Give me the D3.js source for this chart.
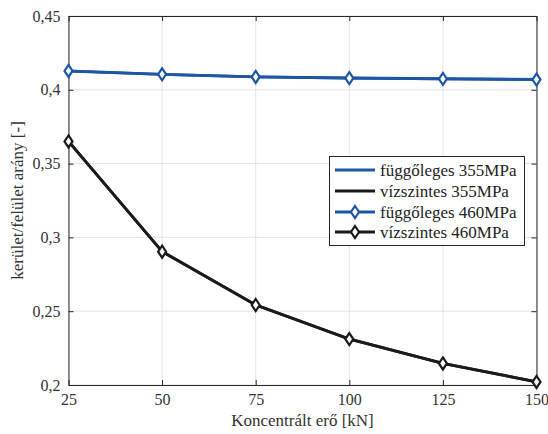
<!DOCTYPE html>
<html><head><meta charset="utf-8">
<script src="https://cdn.jsdelivr.net/npm/d3@7"></script>
<style>body{margin:0;background:#fff}svg{display:block}svg text{font-family:"Liberation Serif","Times New Roman",Times,"DejaVu Serif",serif !important}</style>
</head><body><svg id="c" width="548" height="434"></svg>
<script>
const forces = [25, 50, 75, 100, 125, 150];
const fugg355 = [0.4127, 0.4104, 0.4088, 0.4080, 0.4075, 0.4070];
const visz355 = [0.3651, 0.2905, 0.2543, 0.2312, 0.2147, 0.2022];
const fugg460 = [0.4128, 0.4105, 0.4087, 0.4079, 0.4074, 0.4069];
const visz460 = [0.3650, 0.2903, 0.2542, 0.2311, 0.2146, 0.2021];
const xTicks = [25, 50, 75, 100, 125, 150];
const yTicks = [0.2, 0.25, 0.3, 0.35, 0.4, 0.45];
const seriesNames = ["függőleges 355MPa", "vízszintes 355MPa", "függőleges 460MPa", "vízszintes 460MPa"];

const BLUE = "#1c56a4", BLACK = "#1a1a1a", AX = "#262626";
const FONT = '"Liberation Serif","Times New Roman",Times,"DejaVu Serif",serif';
const svg = d3.select("#c");
const L = 68.5, R = 536.5, T = 16, B = 385;
const x = d3.scaleLinear().domain([25, 150]).range([L, R]);
const y = d3.scaleLinear().domain([0.2, 0.45]).range([B, T]);
const fmt = v => String(+v.toFixed(2)).replace(".", ",");

// grid
svg.append("g").selectAll("line").data(xTicks).join("line")
  .attr("x1", d => x(d)).attr("x2", d => x(d)).attr("y1", T).attr("y2", B)
  .attr("stroke", "#e3e3e3").attr("stroke-width", 1);
svg.append("g").selectAll("line").data(yTicks).join("line")
  .attr("y1", d => y(d)).attr("y2", d => y(d)).attr("x1", L).attr("x2", R)
  .attr("stroke", "#e3e3e3").attr("stroke-width", 1);

// axes
const xa = svg.append("g").attr("transform", `translate(0,${B})`)
  .call(d3.axisBottom(x).tickValues(xTicks).tickFormat(d => d).tickSizeInner(-5).tickSizeOuter(0).tickPadding(9));
const xt = svg.append("g").attr("transform", `translate(0,${T})`)
  .call(d3.axisTop(x).tickValues(xTicks).tickFormat("").tickSizeInner(-5).tickSizeOuter(0));
const ya = svg.append("g").attr("transform", `translate(${L},0)`)
  .call(d3.axisLeft(y).tickValues(yTicks).tickFormat(fmt).tickSizeInner(-5).tickSizeOuter(0).tickPadding(8));
const yr = svg.append("g").attr("transform", `translate(${R},0)`)
  .call(d3.axisRight(y).tickValues(yTicks).tickFormat("").tickSizeInner(-5).tickSizeOuter(0));
[xa, xt, ya, yr].forEach(g => {
  g.attr("font-family", FONT);
  g.select(".domain").attr("stroke", AX).attr("stroke-width", 1);
  g.selectAll(".tick line").attr("stroke", AX);
  g.selectAll("text").attr("fill", "#333").attr("font-family", FONT).style("font-size", "16px");
});
xa.selectAll("text").attr("dy", "0.71em");

// axis labels
svg.append("text").attr("x", (L + R) / 2).attr("y", 426).attr("text-anchor", "middle")
  .attr("font-family", FONT).attr("fill", "#333").style("font-size", "17px").text("Koncentrált erő [kN]");
svg.append("text").attr("transform", `translate(23,${(T + B) / 2}) rotate(-90)`).attr("text-anchor", "middle")
  .attr("font-family", FONT).attr("fill", "#333").style("font-size", "17px").text("kerület/felület arány [-]");

// series
const line = d3.line().x((d, i) => x(forces[i])).y(d => y(d));
const series = [
  {v: fugg355, c: BLUE, m: false},
  {v: visz355, c: BLACK, m: false},
  {v: fugg460, c: BLUE, m: true},
  {v: visz460, c: BLACK, m: true}
];
const diamond = "M0,-6L4,0L0,6L-4,0Z";
series.forEach(s => {
  svg.append("path").attr("d", line(s.v)).attr("fill", "none").attr("stroke", s.c)
    .attr("stroke-width", 2.8).attr("stroke-linejoin", "round");
  if (s.m) {
    svg.append("g").selectAll("path").data(s.v).join("path")
      .attr("transform", (d, i) => `translate(${x(forces[i])},${y(d)})`)
      .attr("d", diamond).attr("fill", "#fff").attr("stroke", s.c).attr("stroke-width", 2.2);
  }
});

// legend
const lg = svg.append("g");
lg.append("rect").attr("x", 329.5).attr("y", 156.5).attr("width", 195).attr("height", 89)
  .attr("fill", "#fff").attr("stroke", AX).attr("stroke-width", 1);
const rowsY = [170, 191, 212, 232];
series.forEach((s, i) => {
  const yy = rowsY[i];
  lg.append("line").attr("x1", 335).attr("x2", 375).attr("y1", yy).attr("y2", yy)
    .attr("stroke", s.c).attr("stroke-width", 2.8);
  if (s.m) lg.append("path").attr("transform", `translate(355,${yy})`).attr("d", diamond)
    .attr("fill", "#fff").attr("stroke", s.c).attr("stroke-width", 2.2);
  lg.append("text").attr("x", 380).attr("y", yy).attr("dy", "0.33em").attr("fill", "#222")
    .attr("font-family", FONT).style("font-size", "17px").text(seriesNames[i]);
});
</script></body></html>
